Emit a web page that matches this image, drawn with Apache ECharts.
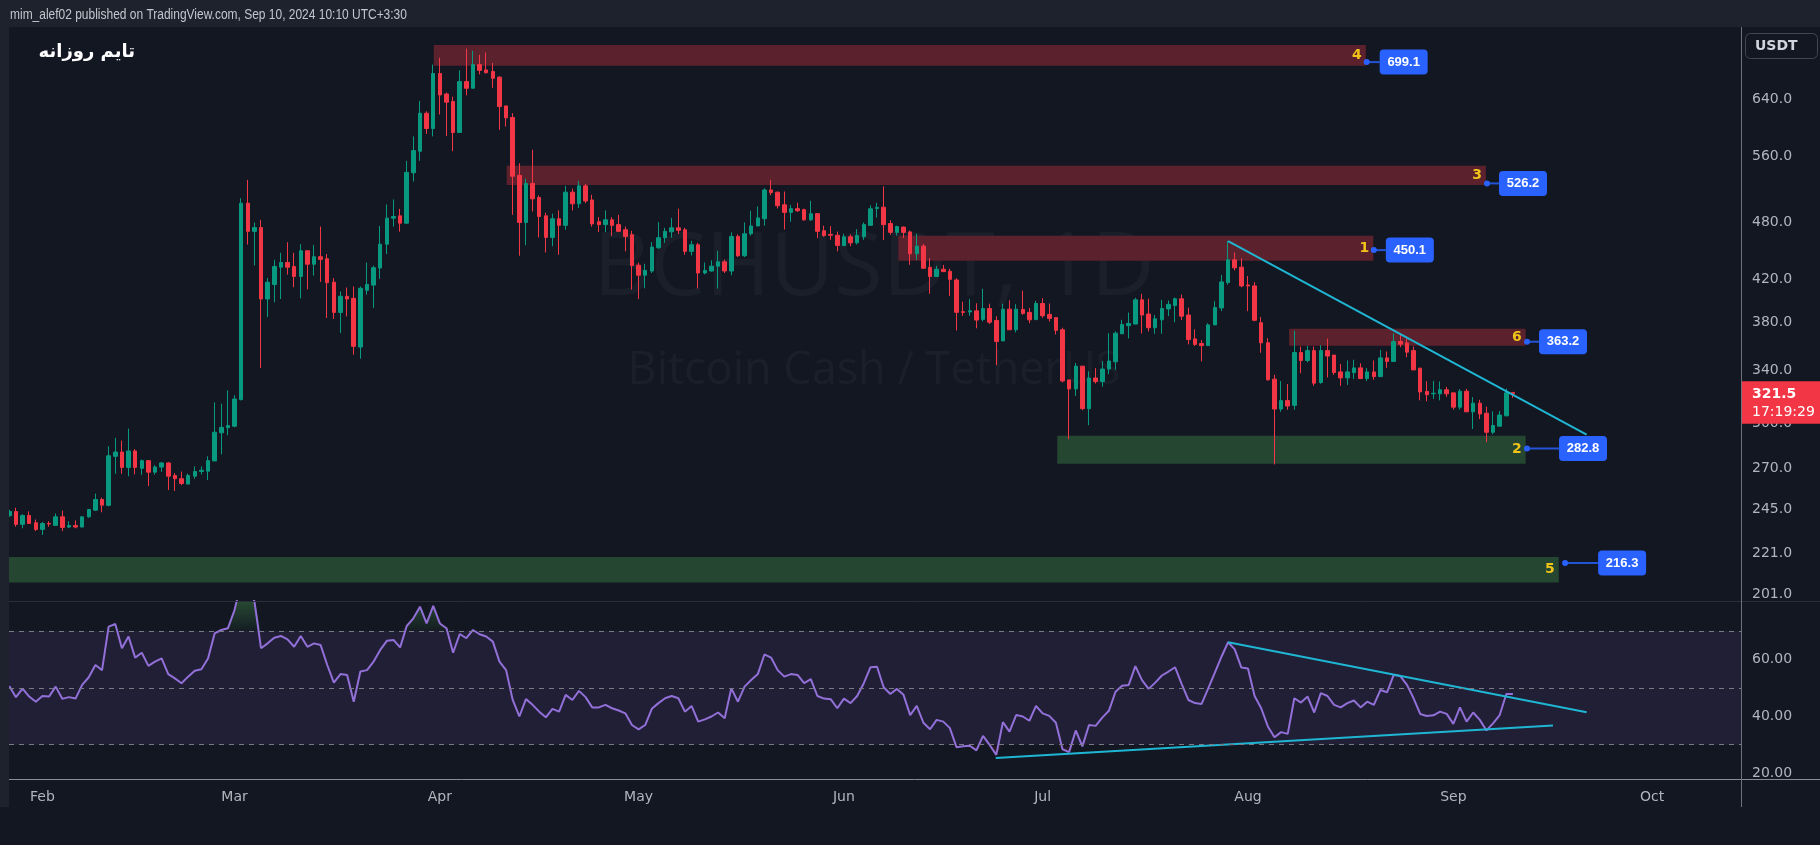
<!DOCTYPE html>
<html>
<head>
<meta charset="utf-8">
<script src="https://cdn.jsdelivr.net/npm/echarts@6/dist/echarts.min.js"></script>
<style>
html,body{margin:0;padding:0;background:#131722;}
#main{width:1820px;height:845px;}
</style>
</head>
<body>
<div id="main"></div>
<script>
// BCHUSDT daily, Jan 27 - Sep 10 2024
var startDate = [2024, 0, 27];

var openP = [
241.7,244.0,236.8,241.8,237.7,234.0,237.3,236.2,241.0,235.3,
236.2,235.3,241.0,244.8,251.0,247.6,277.7,280.5,270.6,281.2,
270.0,274.9,267.6,270.8,273.4,265.5,263.5,260.2,265.1,268.0,
268.2,274.7,293.4,297.0,298.0,317.1,502.4,470.3,474.5,401.4,
415.2,432.5,437.2,433.2,423.2,449.4,435.5,443.2,441.1,417.5,
389.0,403.9,402.0,358.7,409.7,414.7,431.6,456.4,485.1,487.7,
479.4,539.5,567.4,620.2,598.4,680.7,648.8,637.3,592.8,667.9,
657.6,695.0,686.4,683.8,674.9,630.9,614.0,536.3,480.2,526.2,
509.1,487.7,463.7,484.4,477.0,515.5,501.7,523.2,506.2,481.0,
477.8,483.2,477.8,472.1,466.6,434.5,424.4,428.6,452.6,463.4,
469.8,474.2,472.1,448.8,455.8,426.6,428.6,433.5,437.9,428.6,
464.8,444.2,467.7,476.3,484.4,518.2,515.5,500.5,491.7,496.0,
494.8,483.2,490.2,471.0,467.0,466.0,455.0,464.4,457.8,464.4,
477.0,496.2,497.7,479.0,469.2,475.0,469.7,446.2,454.4,432.4,
423.1,430.4,428.3,419.7,389.7,389.4,390.4,382.7,392.5,381.7,
363.9,392.0,373.5,391.7,389.0,382.6,397.2,387.2,384.3,373.5,
332.1,325.2,343.0,310.5,333.6,330.8,340.7,346.5,370.0,377.1,
378.5,400.6,387.5,375.3,382.3,392.2,395.4,401.6,386.6,365.6,
361.7,359.9,377.8,393.1,417.2,440.0,432.5,414.8,413.9,379.7,
362.3,332.7,310.2,316.4,312.9,354.1,347.6,355.7,330.1,355.7,
352.0,338.4,333.7,337.9,341.6,333.2,338.4,334.7,349.7,346.8,
363.4,362.2,355.7,341.4,323.3,321.5,321.5,324.5,322.2,311.6,
323.4,308.2,314.5,307.2,293.8,298.0,305.3,322.5
];
var closeP = [
244.0,236.8,241.8,237.3,234.0,237.3,237.0,241.0,235.1,236.2,
235.3,241.0,245.2,251.0,247.7,278.0,280.5,270.6,281.2,270.6,
274.9,267.6,270.8,273.4,265.1,263.5,260.6,265.5,268.0,268.8,
274.9,293.8,297.2,298.4,317.6,502.4,470.3,474.5,401.4,417.5,
433.2,437.2,432.5,423.2,449.4,435.5,443.2,440.4,417.0,389.0,
403.9,401.4,359.3,411.6,415.4,431.9,456.4,485.1,487.0,479.4,
539.9,568.2,620.2,598.4,680.7,647.3,636.5,592.8,667.9,657.6,
695.0,685.7,682.0,673.1,629.9,613.5,535.1,480.2,526.2,507.5,
487.0,463.7,484.4,477.0,515.5,501.7,523.2,505.0,478.6,477.8,
483.2,477.0,470.3,464.8,434.2,424.4,429.2,453.3,463.4,470.3,
474.2,471.4,448.8,455.8,426.6,429.2,433.5,437.9,428.6,464.8,
444.2,467.7,476.3,485.4,518.2,515.0,499.4,491.7,496.0,493.6,
483.2,490.2,470.3,465.7,466.0,455.0,464.4,457.8,465.7,477.8,
495.8,497.5,477.8,469.2,475.6,469.2,446.2,454.4,431.4,423.1,
430.4,428.0,420.3,389.1,389.0,390.5,382.1,392.5,380.2,363.4,
392.0,373.5,392.0,388.1,382.3,397.2,386.0,383.6,373.0,331.3,
325.2,343.0,310.5,333.6,330.8,340.7,347.1,370.5,378.1,379.1,
400.6,386.6,375.3,383.2,392.5,396.4,401.6,385.6,365.0,360.9,
359.9,377.8,393.4,417.8,440.0,431.8,413.9,413.9,381.9,362.3,
332.2,310.2,316.4,312.4,354.1,347.6,355.7,329.6,355.7,351.2,
337.9,333.7,338.4,341.6,333.2,338.4,334.7,349.7,346.8,363.4,
361.1,354.4,340.0,322.9,320.8,321.9,324.5,321.5,311.6,323.4,
308.2,314.5,306.7,293.8,298.5,305.9,322.2,321.5
];
var lowP = [
241.0,235.5,234.6,237.0,233.1,231.0,235.5,236.2,233.1,234.7,
234.6,235.3,240.5,244.5,243.6,247.0,266.6,266.6,265.0,266.2,
266.0,259.0,266.0,267.8,256.6,256.0,259.6,260.2,263.5,266.2,
262.7,274.7,279.0,291.7,297.2,316.6,456.0,434.2,341.5,384.8,
398.3,401.4,425.0,412.6,402.0,410.6,424.0,417.8,383.9,383.0,
370.6,385.4,352.3,349.0,405.5,393.2,420.8,446.0,475.6,470.0,
478.6,528.6,554.9,590.8,587.5,618.4,588.0,567.4,592.8,646.7,
657.6,679.2,680.7,658.2,596.5,601.2,488.9,444.2,455.3,492.7,
463.7,447.6,454.2,445.2,472.1,493.9,496.6,502.4,475.6,469.5,
469.5,465.4,470.0,448.8,410.4,401.4,411.6,426.6,451.5,457.8,
463.4,467.4,445.2,444.5,411.5,425.3,427.9,411.3,426.6,424.3,
442.8,442.8,465.6,476.3,476.6,511.9,496.2,472.3,481.0,492.1,
482.1,482.0,462.9,464.4,461.0,448.8,454.2,454.2,456.1,461.0,
476.3,485.7,461.0,466.6,465.6,463.0,434.8,439.9,430.8,406.3,
423.1,427.7,404.4,372.9,385.9,386.0,374.8,380.9,378.5,343.8,
363.9,373.5,371.2,386.9,379.3,381.9,384.1,380.7,369.4,330.2,
289.1,319.9,309.4,298.7,329.3,326.9,336.6,340.0,370.0,366.0,
378.5,370.2,372.0,370.0,370.0,385.6,380.2,382.1,360.9,359.6,
346.9,359.9,377.8,390.2,415.0,429.3,412.6,390.1,381.0,353.9,
331.5,272.5,308.2,309.7,309.7,337.4,346.0,327.5,329.1,334.0,
336.1,327.5,328.3,332.9,332.7,331.2,332.2,334.2,341.6,346.8,
358.6,350.2,340.0,316.6,315.9,317.7,316.6,319.2,309.8,309.8,
308.2,296.0,303.0,287.0,292.4,298.0,305.3,318.5
];
var highP = [
245.0,246.2,242.4,244.1,239.5,238.1,238.5,242.9,244.6,238.5,
239.0,241.4,245.5,254.5,252.0,284.3,289.9,288.1,296.3,282.5,
275.6,275.0,272.0,274.0,274.0,267.0,268.0,266.7,271.2,271.2,
277.7,315.1,314.1,324.1,320.4,508.3,530.6,480.2,483.2,421.6,
440.0,447.3,458.5,447.3,456.4,449.4,455.4,475.6,446.0,421.6,
408.6,412.4,413.3,413.3,437.2,434.0,476.3,500.9,506.8,495.8,
554.7,587.5,638.4,623.0,695.0,706.3,650.8,644.8,685.8,721.4,
717.9,711.2,715.2,697.7,676.5,630.9,620.2,551.7,532.0,569.3,
511.6,491.3,490.2,494.0,523.2,519.8,529.4,525.6,512.4,486.2,
494.0,486.2,488.9,475.6,471.0,437.2,435.9,458.5,480.6,474.2,
485.4,496.0,474.2,460.0,457.8,437.2,439.5,449.4,440.2,469.2,
466.9,480.2,493.5,498.6,520.2,530.6,516.3,516.3,500.2,502.8,
496.0,505.2,490.2,476.6,476.0,470.0,467.7,466.9,472.8,480.2,
499.8,502.8,522.6,482.7,476.6,475.7,471.2,467.7,456.5,441.7,
433.8,434.8,430.8,421.3,398.9,401.5,397.4,411.1,397.0,385.5,
397.0,400.2,396.6,409.2,393.1,399.6,402.2,397.2,384.3,375.3,
332.1,345.5,343.0,338.8,341.4,347.1,370.5,372.0,382.3,388.8,
402.5,406.3,401.6,386.8,400.6,400.0,402.8,405.6,393.4,373.9,
364.5,379.3,399.4,424.7,460.0,447.5,441.7,423.7,417.5,384.8,
366.2,336.1,331.2,328.9,372.6,359.1,359.7,359.1,360.2,365.9,
352.0,344.8,347.6,348.2,345.3,341.4,347.6,356.3,355.0,370.4,
369.8,366.0,359.1,341.4,331.2,331.4,330.9,326.7,322.2,325.0,
325.2,319.0,317.0,312.0,308.5,308.8,325.4,322.9
];
var rsiVals = [
50.6,46.7,49.7,46.9,45.1,47.1,46.9,50.4,46.1,46.7,
46.2,51.0,53.7,58.0,56.2,71.5,72.4,63.9,68.0,60.6,
62.3,57.7,59.2,60.3,54.8,53.3,51.6,53.9,56.0,56.5,
60.3,69.1,70.3,70.9,77.3,87.0,84.0,80.5,63.9,65.6,
67.6,68.2,67.0,64.4,68.2,64.4,65.6,65.0,58.0,51.8,
54.8,54.5,45.1,55.7,56.2,59.2,63.3,66.5,66.8,64.2,
71.7,74.4,78.5,72.6,78.8,72.6,70.9,62.3,68.9,67.4,
70.3,68.8,68.0,66.2,59.2,56.2,45.7,39.9,46.0,44.0,
41.6,39.6,42.6,41.6,47.5,45.7,48.9,46.7,43.1,43.1,
44.0,42.8,42.0,41.0,36.9,35.4,36.9,42.6,44.6,46.3,
47.1,46.3,41.6,43.6,38.1,38.9,39.9,41.3,39.3,49.8,
45.1,50.4,52.7,54.8,61.7,60.6,56.2,53.9,54.8,54.5,
51.6,53.0,47.1,46.2,46.0,42.8,46.2,44.6,47.1,51.6,
57.2,57.4,50.2,47.8,49.6,47.5,40.4,43.6,37.7,35.4,
38.7,38.1,35.8,29.1,29.4,29.6,28.0,33.1,29.9,26.4,
37.9,34.6,40.4,39.9,38.4,43.6,41.0,40.1,37.7,28.4,
27.4,35.0,29.4,36.9,36.6,39.5,41.9,48.6,50.7,51.0,
57.6,52.7,49.6,51.8,54.3,55.7,57.2,51.3,45.7,44.6,
44.3,49.8,55.3,60.9,66.0,63.5,57.1,56.8,47.1,42.8,
36.4,32.6,34.4,33.8,46.3,44.8,46.9,41.3,48.1,47.1,
44.0,43.1,44.6,45.5,43.1,45.1,44.0,49.2,48.4,54.5,
54.1,51.0,46.3,40.8,40.1,40.3,41.6,40.8,37.3,43.1,
38.1,41.3,38.7,35.0,37.5,40.4,47.8,47.8
];

var priceTicks = [640, 560, 480, 420, 380, 340, 300, 270, 245, 221, 201];
var rsiTicks = [20, 40, 60];
var rsiLevels = [70, 50, 30];
var monthStarts = ['2024-02-01','2024-03-01','2024-04-01','2024-05-01','2024-06-01','2024-07-01','2024-08-01','2024-09-01','2024-10-01'];
var monthNames = ['Feb','Mar','Apr','May','Jun','Jul','Aug','Sep','Oct'];

// supply / demand boxes
var zoneFrom = ['2024-03-31 02:00','2024-04-11 02:00','2024-06-09 05:00','2024-08-07 05:00','2024-07-03 05:00','2024-01-20'];
var zoneTo   = ['2024-08-18 19:00','2024-09-05 22:00','2024-08-19 22:00','2024-09-11 22:00','2024-09-11 22:00','2024-09-16 22:00'];
var zoneLow  = [693.3, 524.2, 438.9, 359.8, 272.9, 206.6];
var zoneHigh = [727.7, 548.4, 465.4, 374.4, 291.4, 219.4];
var zoneKind = ['sell','sell','sell','sell','buy','buy'];
var zoneNum  = ['4','3','1','6','2','5'];
var tagAt    = ['2024-08-18 22:00','2024-09-06 02:00','2024-08-20 00:00','2024-09-12 03:00','2024-09-12 03:00','2024-09-17 21:00'];
var tagValue = [699.1, 526.2, 450.1, 363.2, 282.8, 216.3];

var priceTrend = [['2024-07-29 00:00', 459.6], ['2024-09-21 03:00', 292.1]];
var rsiTrendHigh = [['2024-07-29 00:00', 66.0], ['2024-09-21 03:00', 41.4]];
var rsiTrendLow = [['2024-06-23 22:00', 25.3], ['2024-09-16 01:00', 36.7]];

var lastPrice = 321.5;
var countdown = '17:19:29';

var DAY = 86400000;
function ts(s) {
    var p = s.split(/[- :]/).map(Number);
    return new Date(p[0], p[1] - 1, p[2], p[3] || 0, p[4] || 0).getTime();
}
var L = Math.log;
var t0 = new Date(startDate[0], startDate[1], startDate[2]).getTime();
var xMin = t0 - 0.045 * DAY, xMax = t0 + 261.43 * DAY;
var monthTs = monthStarts.map(ts);

var days = [];
for (var i = 0; i < closeP.length; i++) {
    days.push(new Date(startDate[0], startDate[1], startDate[2] + i).getTime());
}

var candles = days.map(function (d, i) {
    return [d, L(openP[i]), L(closeP[i]), L(lowP[i]), L(highP[i])];
});
var rsiLine = days.map(function (d, i) { return [d, rsiVals[i]]; });
var rsiHot = days.map(function (d, i) { return [d, Math.max(rsiVals[i], 70)]; });
var rsiCold = days.map(function (d, i) { return [d, Math.min(rsiVals[i], 30)]; });

var UP = '#089981', DOWN = '#f23645';
var zoneColors = { sell: '#5b212c', buy: '#254731' };
var axisFont = { color: '#b2b5be', fontSize: 14, fontFamily: 'DejaVu Sans', margin: 11 };

var zoneAreas = zoneFrom.map(function (f, i) {
    return [{
        xAxis: ts(f), yAxis: L(zoneHigh[i]),
        itemStyle: { color: zoneColors[zoneKind[i]] },
        label: { show: true, position: 'insideRight', distance: 4, formatter: zoneNum[i],
                 color: '#f0c419', fontSize: 14, fontWeight: 'bold', fontFamily: 'DejaVu Sans' }
    }, { xAxis: ts(zoneTo[i]), yAxis: L(zoneLow[i]) }];
});

var chart = echarts.init(document.getElementById('main'));

var option = {
    animation: false,
    backgroundColor: '#131722',
    grid: [
        { left: 9, right: 79, top: 27, height: 574 },
        { left: 9, right: 79, top: 601, height: 178 }
    ],
    xAxis: [
        { type: 'value', gridIndex: 0, min: xMin, max: xMax,
          axisLine: { show: false }, axisTick: { show: false }, axisLabel: { show: false }, splitLine: { show: false } },
        { type: 'value', gridIndex: 1, min: xMin, max: xMax,
          axisLine: { show: false }, axisTick: { show: false }, splitLine: { show: false },
          axisLabel: echarts.util.extend({
              customValues: monthTs,
              formatter: function (v) {
                  var k = monthTs.indexOf(v);
                  return k >= 0 ? monthNames[k] : '';
              }
          }, axisFont) }
    ],
    yAxis: [
        { type: 'value', gridIndex: 0, position: 'right', min: 5.2877, max: 6.6320,
          axisLine: { show: false }, axisTick: { show: false }, splitLine: { show: false },
          axisLabel: echarts.util.extend({
              customValues: priceTicks.map(L),
              formatter: function (v) { return Math.exp(v).toFixed(1); }
          }, axisFont) },
        { type: 'value', gridIndex: 1, position: 'right', min: 17.93, max: 80.49,
          axisLine: { show: false }, axisTick: { show: false }, splitLine: { show: false },
          axisLabel: echarts.util.extend({
              customValues: rsiTicks,
              formatter: function (v) { return v.toFixed(2); }
          }, axisFont) }
    ],
    series: [
        {
            type: 'candlestick', name: 'BCHUSDT', xAxisIndex: 0, yAxisIndex: 0, z: 3,
            data: candles, encode: { x: 0, y: [1, 2, 3, 4] },
            barWidth: 4,
            itemStyle: { color: UP, color0: DOWN, borderColor: UP, borderColor0: DOWN, borderWidth: 1 },
            markArea: { silent: true, data: zoneAreas }
        },
        {
            type: 'line', name: 'trend', xAxisIndex: 0, yAxisIndex: 0, z: 4,
            data: priceTrend.map(function (p) { return [ts(p[0]), L(p[1])]; }),
            symbol: 'none', lineStyle: { color: '#1fb6d3', width: 2 }
        },
        {
            type: 'line', name: 'rsiHot', xAxisIndex: 1, yAxisIndex: 1, z: 2,
            data: rsiHot, symbol: 'none', lineStyle: { width: 0, opacity: 0 },
            areaStyle: { origin: 70, color: new echarts.graphic.LinearGradient(0, 0, 0, 1, [
                { offset: 0, color: 'rgba(76,175,80,0.75)' }, { offset: 1, color: 'rgba(76,175,80,0.05)' }]) }
        },
        {
            type: 'line', name: 'rsiCold', xAxisIndex: 1, yAxisIndex: 1, z: 2,
            data: rsiCold, symbol: 'none', lineStyle: { width: 0, opacity: 0 },
            areaStyle: { origin: 30, color: new echarts.graphic.LinearGradient(0, 0, 0, 1, [
                { offset: 0, color: 'rgba(242,54,69,0.03)' }, { offset: 1, color: 'rgba(242,54,69,0.3)' }]) }
        },
        {
            type: 'line', name: 'RSI', xAxisIndex: 1, yAxisIndex: 1, z: 3,
            data: rsiLine, symbol: 'none', lineStyle: { color: '#9270d8', width: 2 },
            markArea: { silent: true, itemStyle: { color: 'rgba(126,87,194,0.13)' },
                        data: [[{ xAxis: xMin, yAxis: 30 }, { xAxis: xMax, yAxis: 70 }]] },
            markLine: { silent: true, symbol: 'none', label: { show: false },
                        lineStyle: { color: '#787b86', type: [5, 5], width: 1 },
                        data: rsiLevels.map(function (v) { return { yAxis: v }; }) }
        },
        {
            type: 'line', name: 'rsiTrendHigh', xAxisIndex: 1, yAxisIndex: 1, z: 4,
            data: rsiTrendHigh.map(function (p) { return [ts(p[0]), p[1]]; }),
            symbol: 'none', lineStyle: { color: '#1fb6d3', width: 2 }
        },
        {
            type: 'line', name: 'rsiTrendLow', xAxisIndex: 1, yAxisIndex: 1, z: 4,
            data: rsiTrendLow.map(function (p) { return [ts(p[0]), p[1]]; }),
            symbol: 'none', lineStyle: { color: '#1fb6d3', width: 2 }
        }
    ]
};
chart.setOption(option);

// frame, watermark, tags
var g = [];
g.push({ type: 'text', z: 0, silent: true, style: { text: 'BCHUSDT, 1D', x: 874, y: 270, align: 'center', verticalAlign: 'middle',
         font: '88px "Open Sans"', fill: 'rgba(255,255,255,0.035)' } });
g.push({ type: 'text', z: 0, silent: true, style: { text: 'Bitcoin Cash / TetherUS', x: 874, y: 371, align: 'center', verticalAlign: 'middle',
         font: '45px "Open Sans"', fill: 'rgba(255,255,255,0.035)' } });

g.push({ type: 'rect', z: 100, shape: { x: 0, y: 0, width: 1820, height: 27 }, style: { fill: '#1e222d' } });
g.push({ type: 'rect', z: 100, shape: { x: 0, y: 27, width: 9, height: 780 }, style: { fill: '#1e222d' } });
g.push({ type: 'text', z: 101, x: 10, y: 15, scaleX: 0.855, style: { text: 'mim_alef02 published on TradingView.com, Sep 10, 2024 10:10 UTC+3:30',
         x: 0, y: 0, verticalAlign: 'middle', font: '14px "Liberation Sans"', fill: '#c3c6ce' } });
g.push({ type: 'text', z: 101, style: { text: 'تایم روزانه', x: 135, y: 52, align: 'right', verticalAlign: 'middle',
         font: 'bold 18px "DejaVu Sans"', fill: '#ffffff' } });

g.push({ type: 'line', z: 100, shape: { x1: 9, y1: 601.5, x2: 1820, y2: 601.5 }, style: { stroke: '#2a2e39', lineWidth: 1 } });
g.push({ type: 'line', z: 100, shape: { x1: 9, y1: 779.5, x2: 1820, y2: 779.5 }, style: { stroke: '#8a8d96', lineWidth: 1 } });
g.push({ type: 'line', z: 100, shape: { x1: 1741.5, y1: 27, x2: 1741.5, y2: 807 }, style: { stroke: '#6f727c', lineWidth: 1 } });

g.push({ type: 'rect', z: 100, shape: { x: 1745.5, y: 33.5, width: 72, height: 25, r: 5 }, style: { fill: '#131722', stroke: '#434651', lineWidth: 1 } });
g.push({ type: 'text', z: 101, style: { text: 'USDT', x: 1755, y: 46, verticalAlign: 'middle', font: 'bold 14px "DejaVu Sans"', fill: '#d1d4dc' } });

var tagGap = [13, 12, 12, 12, 32, 33];
tagAt.forEach(function (t, i) {
    var p = chart.convertToPixel({ gridIndex: 0 }, [ts(t), L(tagValue[i])]);
    var bx = p[0] + tagGap[i];
    g.push({ type: 'line', z: 100, shape: { x1: p[0], y1: p[1], x2: bx, y2: p[1] }, style: { stroke: '#2454d6', lineWidth: 2 } });
    g.push({ type: 'circle', z: 101, shape: { cx: p[0], cy: p[1], r: 3 }, style: { fill: '#2962ff' } });
    g.push({ type: 'rect', z: 101, shape: { x: bx, y: p[1] - 12.5, width: 48, height: 25, r: 4 }, style: { fill: '#2962ff' } });
    g.push({ type: 'text', z: 102, style: { text: tagValue[i].toFixed(1), x: bx + 24, y: p[1], align: 'center', verticalAlign: 'middle',
             font: 'bold 13px "Liberation Sans"', fill: '#ffffff' } });
});

var lp = chart.convertToPixel({ gridIndex: 0 }, [t0, L(lastPrice)]);
g.push({ type: 'rect', z: 110, shape: { x: 1742, y: lp[1] - 12.5, width: 78, height: 42.5 }, style: { fill: '#f23645' } });
g.push({ type: 'text', z: 111, style: { text: lastPrice.toFixed(1), x: 1752, y: lp[1] + 1, verticalAlign: 'middle',
         font: 'bold 14px "DejaVu Sans"', fill: '#ffffff' } });
g.push({ type: 'text', z: 111, style: { text: countdown, x: 1752, y: lp[1] + 19, verticalAlign: 'middle',
         font: '14px "DejaVu Sans"', fill: '#ffffff' } });

chart.setOption({ graphic: g });
</script>
</body>
</html>
